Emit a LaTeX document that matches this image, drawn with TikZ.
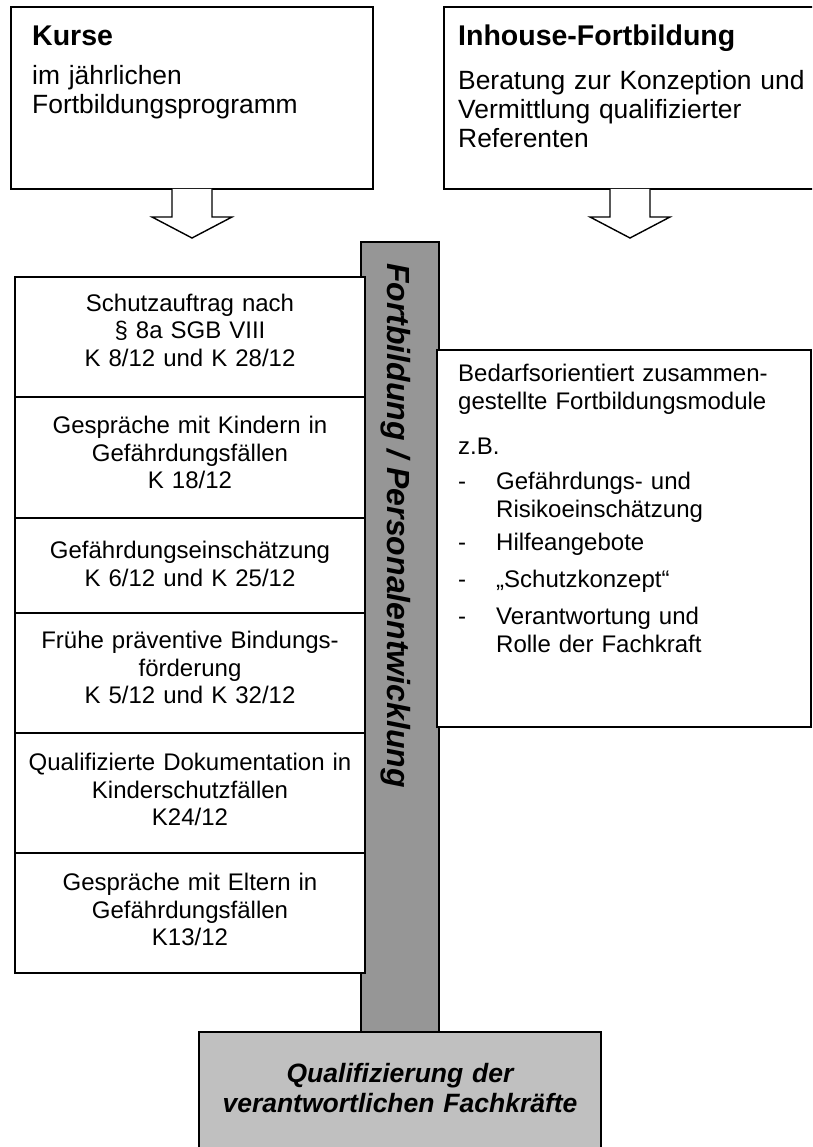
\documentclass[tikz,border=0pt]{standalone}
\usepackage{fontspec}
\setmainfont{Liberation Sans}
\usetikzlibrary{calc}
\definecolor{barfill}{RGB}{150,150,150}
\definecolor{basefill}{RGB}{192,192,192}
\newcommand{\headfnt}{\fontsize{28.5}{33}\selectfont\bfseries}
\newcommand{\topfnt}{\fontsize{26.4}{29}\selectfont}
\newcommand{\boxfnt}{\fontsize{24}{27.5}\selectfont}
\newcommand{\listfnt}{\fontsize{24}{28}\selectfont}
\newcommand{\barfnt}{\fontsize{32}{36}\selectfont\bfseries\itshape}
\newcommand{\basefnt}{\fontsize{26.5}{30.5}\selectfont\bfseries\itshape}
\newcommand{\dsh}{\makebox[38pt][l]{-}}
\begin{document}
\begin{tikzpicture}[x=1pt,y=-1pt,
  panel/.style={draw, line width=1.4pt, fill=white, inner sep=0pt, outer sep=0pt, anchor=north west},
  blockarrow/.style={draw, line width=1.4pt, fill=white, line join=miter},
  ctext/.style={text width=350pt, align=center, anchor=base, inner sep=0pt, font=\boxfnt}]
\useasboundingbox (0,0) rectangle (812,1147);
\clip (0,0) rectangle (812,1147);

% top boxes
\node[panel, minimum width=362pt, minimum height=182pt] (kurse) at (11,7) {};
\node[panel, minimum width=372pt, minimum height=182pt] (inhouse) at (444,7) {};
\node[anchor=base west, inner sep=0pt, font=\headfnt] (kurseT) at (32,46) {Kurse};
\node[anchor=base west, inner sep=0pt, text width=330pt, align=left, font=\topfnt] (kurseB) at (32,85) {im jährlichen\\Fortbildungsprogramm};
\node[anchor=base west, inner sep=0pt, font=\headfnt] (inhouseT) at (458,46) {Inhouse-Fortbildung};
\node[anchor=base west, inner sep=0pt, text width=350pt, align=left, font=\topfnt] (inhouseB) at (458,90) {Beratung zur Konzeption und\\Vermittlung qualifizierter\\Referenten};

% block arrows
\draw[blockarrow] ($(kurse.south)+(-20,0)$) -- ++(0,28) -- ++(-20,0) -- ++(40,21) -- ++(40,-21) -- ++(-20,0) -- ++(0,-28);
\draw[blockarrow] ($(inhouse.south)+(-20,0)$) -- ++(0,28) -- ++(-20,0) -- ++(40,21) -- ++(40,-21) -- ++(-20,0) -- ++(0,-28);

% vertical bar
\node[panel, fill=barfill, minimum width=78pt, minimum height=820pt] (bar) at (361,242) {};
\node[rotate=-90, anchor=base west, inner sep=0pt, font=\barfnt] (barT) at (387,263) {Fortbildung / Personalentwicklung};

% left course boxes
\node[panel, minimum width=350pt, minimum height=120pt] (b1) at (15,277) {};
\node[panel, minimum width=350pt, minimum height=121pt] (b2) at (15,397) {};
\node[panel, minimum width=350pt, minimum height=95pt] (b3) at (15,518) {};
\node[panel, minimum width=350pt, minimum height=120pt] (b4) at (15,613) {};
\node[panel, minimum width=350pt, minimum height=120pt] (b5) at (15,733) {};
\node[panel, minimum width=350pt, minimum height=120pt] (b6) at (15,853) {};
\node[ctext] (t1) at (190,311.5) {Schutzauftrag nach\\§ 8a SGB VIII\\K 8/12 und K 28/12};
\node[ctext] (t2) at (190,433.5) {Gespräche mit Kindern in\\Gefährdungsfällen\\K 18/12};
\node[ctext] (t3) at (190,558.5) {Gefährdungseinschätzung\\K 6/12 und K 25/12};
\node[ctext] (t4) at (190,648.5) {Frühe präventive Bindungs-\\förderung\\K 5/12 und K 32/12};
\node[ctext] (t5) at (190,770.5) {Qualifizierte Dokumentation in\\Kinderschutzfällen\\K24/12};
\node[ctext] (t6) at (190,890.5) {Gespräche mit Eltern in\\Gefährdungsfällen\\K13/12};

% right module box
\node[panel, minimum width=374pt, minimum height=377pt] (mod) at (437,350) {};
\node[anchor=base west, inner sep=0pt, text width=350pt, align=left, font=\listfnt] (modT) at (458,381) {Bedarfsorientiert zusammen-\\
gestellte Fortbildungsmodule\\[17pt]
z.B.\\[7pt]
\dsh Gefährdungs- und\\
\hspace*{38pt}Risikoeinschätzung\\[5pt]
\dsh Hilfeangebote\\[9pt]
\dsh „Schutzkonzept“\\[9pt]
\dsh Verantwortung und\\
\hspace*{38pt}Rolle der Fachkraft};

% bottom box
\node[panel, fill=basefill, minimum width=402pt, minimum height=140pt] (base) at (199,1032) {};
\node[text width=400pt, align=center, anchor=base, inner sep=0pt, font=\basefnt] (baseT) at (400,1082) {Qualifizierung der\\verantwortlichen Fachkräfte};
\end{tikzpicture}
\end{document}
